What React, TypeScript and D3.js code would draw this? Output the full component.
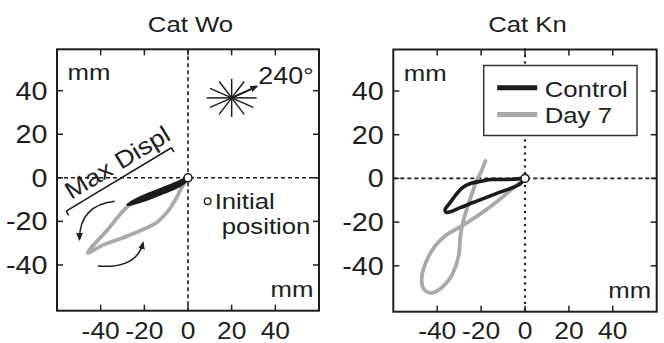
import React from "react";
import * as d3 from "d3";

// axis ticks (mm)
const ticks = [-40, -20, 0, 20, 40];
const xDomain = [-60, 60];
const yDomain = [-61, 59];

// trajectories [x mm, y mm]
const woControl: [number, number][] = [
  [0, 0], [-3.8, -2], [-9.9, -4.6], [-19.1, -8.2], [-27.3, -12.2],
  [-19, -9.6], [-10, -6], [-4, -3.4], [-1, -1], [0, 0],
];
const woDay7: [number, number][] = [
  [0, 0], [-3.8, -3], [-9.9, -5.3], [-19.1, -8.9], [-27.5, -13],
  [-36.7, -23.7], [-45.9, -34.4], [-39, -30.9], [-29.8, -27.5],
  [-22.2, -24.4], [-14.5, -20.6], [-9.2, -15.3], [-5.3, -9.2],
  [-3, -4.6], [-1, -1.5],
];
const knControl: [number, number][] = [
  [0, 0], [-8.7, -0.5], [-15.5, -0.5], [-19.4, -1.2], [-24.9, -2.3],
  [-28.6, -4.3], [-31.5, -7.5], [-34.1, -11.1], [-36.4, -14.2],
  [-36, -15.5], [-33.2, -15], [-29.5, -13.4], [-22.5, -10.6],
  [-11.7, -6.4], [-2.6, -2.8], [0, 0],
];
const knDay7: [number, number][] = [
  [-18, 8], [-20, 3], [-22, -1], [-24.5, -8], [-26.5, -14], [-28.5, -21],
  [-29.5, -27], [-30, -34], [-31.5, -40], [-34, -45.5], [-38, -50],
  [-43, -52.5], [-46.5, -50], [-47, -45], [-45, -38], [-41, -31],
  [-36, -26], [-31, -23], [-26, -20], [-20, -16], [-12, -10], [-5, -4],
  [-1, -1],
];

const seriesNames = ["Control", "Day 7"];
const seriesColors = ["#1b1b1b", "#a9a9a9"];

// annotations (mm)
const starCenter: [number, number] = [20, 36.7];
const starDirs = [0, 30, 60, 90, 120, 150, 180, 210, 240, 270, 300, 330];
const starArrowEnd: [number, number] = [31.5, 42];
const maxDispl: [number, number][] = [[-55.8, -15.3], [-7.6, 13.8]];
const initialMarker: [number, number] = [9, -10.7];
const curvedArrows: [number, number][][] = [
  [[-33.6, -10.7], [-49.7, -12.5], [-49.7, -28.3]],
  [[-41.3, -40.5], [-23.5, -41.9], [-20.6, -29.8]],
];

const FONT = "'Liberation Sans', Arial, Helvetica, sans-serif";
const SX = 1.12;
const INK = "#1e1e1e";
const X_LABEL_BASELINE = 339;

const Label = ({ x, y, anchor = "start", size = 23, sx = SX, rotate = 0, children }: any) => (
  <text
    transform={`translate(${x},${y}) rotate(${rotate}) scale(${sx},1)`}
    textAnchor={anchor}
    fontSize={size}
    fill={INK}
    fontFamily={FONT}
  >
    {children}
  </text>
);

const panels = [
  { title: "Cat Wo", left: 57, top: 49.3, width: 262, height: 261.4, control: woControl, day7: woDay7, vDash: "4,3", vCap: "butt", annot: true },
  { title: "Cat Kn", left: 393.3, top: 49.5, width: 263.4, height: 262.2, control: knControl, day7: knDay7, vDash: "0.1,6.4", vCap: "round", annot: false },
];

const Panel = ({ p }: any) => {
  const x = d3.scaleLinear().domain(xDomain).range([p.left, p.left + p.width]);
  const y = d3.scaleLinear().domain(yDomain).range([p.top + p.height, p.top]);
  const line = d3
    .line<[number, number]>()
    .x((d) => x(d[0]))
    .y((d) => y(d[1]))
    .curve(d3.curveCatmullRom.alpha(0.5));
  const right = p.left + p.width;
  const bottom = p.top + p.height;
  const tl = 6;

  let annot = null;
  if (p.annot) {
    const cx = x(starCenter[0]);
    const cy = y(starCenter[1]);
    const bx0 = x(maxDispl[0][0]), by0 = y(maxDispl[0][1]);
    const bx1 = x(maxDispl[1][0]), by1 = y(maxDispl[1][1]);
    const ang = Math.atan2(by1 - by0, bx1 - bx0);
    const nx = -Math.sin(ang), ny = Math.cos(ang); // normal pointing down-right
    const ux = Math.cos(ang), uy = Math.sin(ang);
    annot = (
      <g>
        {starDirs.map((a) => {
          const r = a * Math.PI / 180;
          return (
            <line key={a} x1={cx} y1={cy} x2={cx + 25 * Math.cos(r)} y2={cy - 19 * Math.sin(r)}
              stroke={INK} strokeWidth={1.5} />
          );
        })}
        <line x1={cx} y1={cy} x2={x(starArrowEnd[0])} y2={y(starArrowEnd[1])}
          stroke={INK} strokeWidth={1.8} markerEnd="url(#ah)" />
        <Label x={x(starArrowEnd[0]) + 1.5} y={y(starArrowEnd[1]) - 2} size={24}>240°</Label>

        <line x1={bx0} y1={by0} x2={bx1} y2={by1} stroke={INK} strokeWidth={1.6} />
        <line x1={bx0} y1={by0} x2={bx0 + 5 * nx} y2={by0 + 5 * ny} stroke={INK} strokeWidth={1.6} />
        <line x1={bx1} y1={by1} x2={bx1 + 5 * nx} y2={by1 + 5 * ny} stroke={INK} strokeWidth={1.6} />
        <Label x={bx0 + 10 * ux - 7 * nx} y={by0 + 10 * uy - 7 * ny} size={24} rotate={(ang * 180) / Math.PI}>
          Max Displ
        </Label>

        {curvedArrows.map((c, i) => {
          const path = d3.path();
          path.moveTo(x(c[0][0]), y(c[0][1]));
          path.quadraticCurveTo(x(c[1][0]), y(c[1][1]), x(c[2][0]), y(c[2][1]));
          return <path key={i} d={path.toString()} fill="none" stroke={INK} strokeWidth={1.5} markerEnd="url(#ah)" />;
        })}

        <circle cx={x(initialMarker[0])} cy={y(initialMarker[1])} r={3.3} fill="white" stroke={INK} strokeWidth={1.4} />
        <Label x={x(initialMarker[0]) + 7} y={y(initialMarker[1]) + 8}>Initial</Label>
        <Label x={x(initialMarker[0]) + 14} y={y(initialMarker[1]) + 33}>position</Label>
      </g>
    );
  }

  let legend = null;
  if (!p.annot) {
    const lx = p.left + 90.4;
    const ly = p.top + 16;
    legend = (
      <g>
        <rect x={lx} y={ly} width={153.3} height={70} fill="white" stroke="#333" strokeWidth={1.5} />
        {seriesNames.map((n, i) => (
          <g key={n}>
            <line x1={lx + 13.5} x2={lx + 53.5} y1={ly + 22.3 + i * 26.7} y2={ly + 22.3 + i * 26.7}
              stroke={seriesColors[i]} strokeWidth={5} />
            <Label x={lx + 61} y={ly + 31.3 + i * 26.3}>{n}</Label>
          </g>
        ))}
      </g>
    );
  }

  return (
    <g>
      <Label x={x(0) + 2.5} y={32} anchor="middle">{p.title}</Label>
      {/* zero lines */}
      <line x1={p.left} x2={right} y1={y(0)} y2={y(0)} stroke={INK} strokeWidth={1.6} strokeDasharray="4,3" />
      <line x1={x(0)} x2={x(0)} y1={p.top} y2={bottom} stroke={INK} strokeWidth={p.vCap === "round" ? 2.4 : 1.6}
        strokeDasharray={p.vDash} strokeLinecap={p.vCap} />
      {/* ticks */}
      {ticks.map((t) => (
        <g key={t}>
          <line x1={x(t)} x2={x(t)} y1={bottom} y2={bottom - tl} stroke={INK} strokeWidth={1.5} />
          <line x1={x(t)} x2={x(t)} y1={p.top} y2={p.top + tl} stroke={INK} strokeWidth={1.5} />
          <line x1={p.left} x2={p.left + tl} y1={y(t)} y2={y(t)} stroke={INK} strokeWidth={1.5} />
          <line x1={right} x2={right - tl} y1={y(t)} y2={y(t)} stroke={INK} strokeWidth={1.5} />
          <Label x={x(t)} y={X_LABEL_BASELINE} anchor="middle" size={24} sx={1.1}>{t}</Label>
          <Label x={p.left - 9.5} y={y(t) + 9} anchor="end" size={25} sx={1.15}>{t}</Label>
        </g>
      ))}
      <Label x={p.left + 10.5} y={p.top + 31}>mm</Label>
      <Label x={right - 5.5} y={bottom - 13.5} anchor="end">mm</Label>

      {annot}
      <path d={line(p.day7) || ""} fill="none" stroke={seriesColors[1]} strokeWidth={3.8}
        strokeLinejoin="round" strokeLinecap="round" />
      <path d={line(p.control) || ""} fill="none" stroke={seriesColors[0]} strokeWidth={p.annot ? 4.4 : 3.6}
        strokeLinejoin="round" strokeLinecap="round" />
      <circle cx={x(0)} cy={y(0)} r={4} fill="white" stroke={INK} strokeWidth={1.6} />
      {legend}
      <rect x={p.left} y={p.top} width={p.width} height={p.height} fill="none" stroke={INK} strokeWidth={2} />
    </g>
  );
};

export default function App() {
  return (
    <svg width={664} height={343} style={{ position: "absolute", left: 0, top: 0, background: "white" }}>
      <defs>
        <marker id="ah" viewBox="0 0 10 10" refX="8" refY="5" markerWidth="8" markerHeight="8"
          markerUnits="userSpaceOnUse" orient="auto">
          <path d="M0,0.8 L10,5 L0,9.2 z" fill={INK} />
        </marker>
      </defs>
      {panels.map((p) => (
        <Panel key={p.title} p={p} />
      ))}
    </svg>
  );
}
